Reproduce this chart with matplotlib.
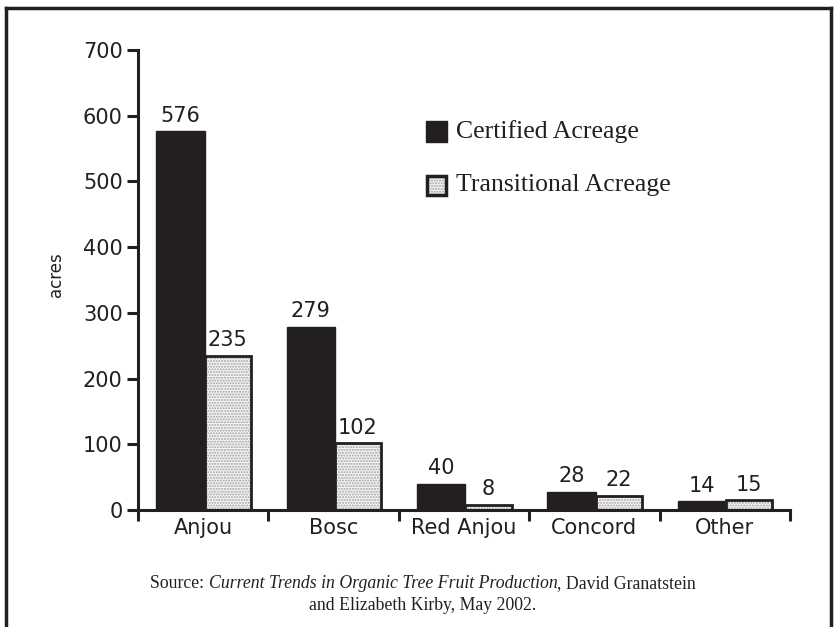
import matplotlib
matplotlib.use("Agg")
import matplotlib.pyplot as plt
from matplotlib.lines import Line2D
from matplotlib.patches import Rectangle
import numpy as np

categories = ["Anjou", "Bosc", "Red Anjou", "Concord", "Other"]
certified = [576, 279, 40, 28, 14]
transitional = [235, 102, 8, 22, 15]
yticks = [0, 100, 200, 300, 400, 500, 600, 700]

dark = "#231f20"
sans = ["DejaVu Sans"]
serif = ["Liberation Serif", "DejaVu Serif"]

fig = plt.figure(figsize=(8.35, 6.27), dpi=100)
ax = fig.add_axes([138/835, 1-510/627, (790-138)/835, (510-50)/627])

x = np.arange(len(categories))
w1, w2 = 0.37, 0.355
ax.bar(x + 0.14, certified, width=w1, align="edge", color=dark, edgecolor=dark, linewidth=1, zorder=2)
ax.bar(x + 0.51, transitional, width=w2, align="edge", color="#f6f6f6", edgecolor="#a0a0a0",
       hatch="......", linewidth=0, zorder=2)
ax.bar(x + 0.51, transitional, width=w2, align="edge", facecolor="none", edgecolor=dark,
       linewidth=2, zorder=3)

for i, v in enumerate(certified):
    ax.text(x[i] + 0.14 + w1/2, v + 8, str(v), ha="center", va="bottom", fontsize=15,
            family=sans, color=dark)
for i, v in enumerate(transitional):
    ax.text(x[i] + 0.51 + w2/2, v + 8, str(v), ha="center", va="bottom", fontsize=15,
            family=sans, color=dark)

ax.set_xlim(0, len(categories))
ax.set_ylim(0, 700)
for s in ["top", "right"]:
    ax.spines[s].set_visible(False)
for s in ["left", "bottom"]:
    ax.spines[s].set_linewidth(2.2)
    ax.spines[s].set_color(dark)

ax.set_yticks(yticks)
ax.set_yticklabels([str(t) for t in yticks], fontsize=15, family=sans, color=dark)
ax.tick_params(axis="y", direction="out", length=8, width=2.2, color=dark, pad=3)

ax.set_xticks(np.arange(len(categories) + 1))
ax.set_xticklabels([])
ax.tick_params(axis="x", direction="out", length=8, width=2.2, color=dark)
ax.set_xticks(x + 0.5, minor=True)
ax.set_xticklabels(categories, minor=True, fontsize=15, family=sans, color=dark)
ax.tick_params(axis="x", which="minor", length=0, pad=6)

fig.text(56/835, 1-275/627, "acres", fontsize=12, family=sans, color=dark, rotation=90,
         ha="center", va="center")

# legend
fig.patches.append(Rectangle((426/835, 1-142/627), 21/835, 21/627, transform=fig.transFigure,
                             facecolor=dark, edgecolor=dark, lw=1))
fig.patches.append(Rectangle((427/835, 1-195/627), 19/835, 19/627, transform=fig.transFigure,
                             facecolor="#f6f6f6", edgecolor="#a0a0a0", hatch="......", lw=0))
fig.patches.append(Rectangle((427/835, 1-195/627), 19/835, 19/627, transform=fig.transFigure,
                             facecolor="none", edgecolor=dark, lw=2.5))
fig.text(456/835, 1-132/627, "Certified Acreage", fontsize=18.5, family=serif, color=dark, va="center")
fig.text(456/835, 1-185/627, "Transitional Acreage", fontsize=18.5, family=serif, color=dark, va="center")

# border
for xs, ys in [([6/835, 831/835], [1-8/627, 1-8/627]),
               ([6/835, 6/835], [1-8/627, 0]),
               ([831/835, 831/835], [1-8/627, 0])]:
    fig.add_artist(Line2D(xs, ys, transform=fig.transFigure, color=dark, lw=2.5))

# source text
fig.canvas.draw()
r = fig.canvas.get_renderer()
parts = [("Source: ", "normal"), ("Current Trends in Organic Tree Fruit Production", "italic"),
         (", David Granatstein", "normal")]
texts = []
for s, st in parts:
    t = fig.text(0, 1-588/627, s, fontsize=12.8, family=serif, style=st, color=dark, va="baseline")
    texts.append(t)
widths = [t.get_window_extent(r).width for t in texts]
total = sum(widths)
cx = 423
start = cx - total/2
for t, wd in zip(texts, widths):
    t.set_x(start/835)
    start += wd
fig.text(cx/835, 1-610/627, "and Elizabeth Kirby, May 2002.", fontsize=12.8, family=serif,
         color=dark, ha="center", va="baseline")

fig.savefig("out.png", dpi=100)
